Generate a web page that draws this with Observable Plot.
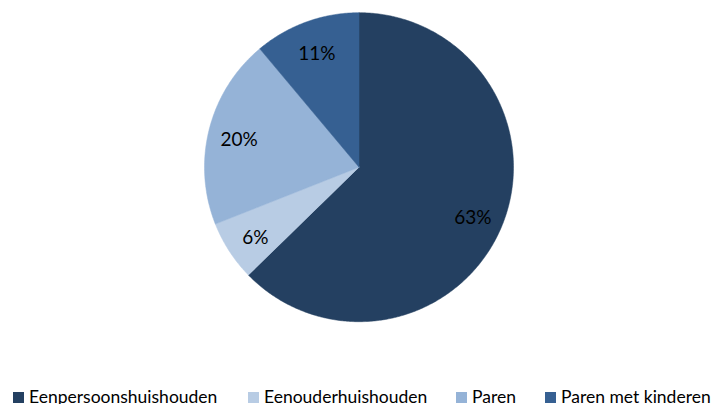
<!DOCTYPE html>
<html>
<head>
<meta charset="utf-8">
<script src="https://cdn.jsdelivr.net/npm/d3@7"></script>
<script src="https://cdn.jsdelivr.net/npm/@observablehq/plot@0.6"></script>
<style>
  html, body { margin: 0; padding: 0; background: #fff; }
  #wrap { position: relative; width: 713px; height: 404px; overflow: hidden; font-family: Lato, "Liberation Sans", sans-serif; }
  #chart svg { display: block; }
  .item { position: absolute; top: 386px; display: flex; align-items: center; font-size: 17.5px; color: #000; white-space: nowrap; line-height: 22px; }
  .sw { width: 11px; height: 11px; margin-right: 5px; }
</style>
</head>
<body>
<div id="wrap">
  <div id="chart"></div>
  <div id="legend"></div>
</div>
<script>
const categories = ["Eenpersoonshuishouden", "Eenouderhuishouden", "Paren", "Paren met kinderen"];
const values = [62.7, 6.3, 19.9, 11.1];
const colors = ["#244061", "#B8CCE4", "#95B3D7", "#366092"];
const legendLeft = [13, 248, 456, 545];

const W = 713, H = 376;
const cx = 358.5, cy = 166.7, R = 154.5;

const total = d3.sum(values);
const points = [];
const labels = [];
let acc = 0;
categories.forEach((c, i) => {
  const a0 = acc / total * 2 * Math.PI;
  acc += values[i];
  const a1 = acc / total * 2 * Math.PI;
  points.push({cat: c, x: 0, y: 0});
  const n = Math.max(2, Math.ceil((a1 - a0) / 0.01));
  for (let k = 0; k <= n; k++) {
    const a = a0 + (a1 - a0) * k / n;
    points.push({cat: c, x: Math.sin(a), y: Math.cos(a)});
  }
  points.push({cat: c, x: 0, y: 0});
  const am = (a0 + a1) / 2;
  labels.push({x: 0.8 * Math.sin(am), y: 0.8 * Math.cos(am), text: Math.round(values[i] / total * 100) + "%"});
});

const chart = Plot.plot({
  width: W,
  height: H,
  margin: 0,
  x: {domain: [-cx / R, (W - cx) / R], axis: null},
  y: {domain: [-(H - cy) / R, cy / R], axis: null},
  color: {domain: categories, range: colors},
  style: {fontFamily: "Lato, 'Liberation Sans', sans-serif", background: "#fff"},
  marks: [
    Plot.line(points, {x: "x", y: "y", z: "cat", fill: "cat", stroke: "cat", strokeWidth: 0.5, curve: "linear"}),
    Plot.text(labels, {x: "x", y: "y", text: "text", fill: "#000", fontSize: 19, dy: 3})
  ]
});
document.getElementById("chart").appendChild(chart);

const legend = document.getElementById("legend");
categories.forEach((c, i) => {
  const it = document.createElement("div");
  it.className = "item";
  it.style.left = legendLeft[i] + "px";
  const sw = document.createElement("span");
  sw.className = "sw";
  sw.style.background = colors[i];
  const t = document.createElement("span");
  t.textContent = c;
  it.appendChild(sw);
  it.appendChild(t);
  legend.appendChild(it);
});
</script>
</body>
</html>
